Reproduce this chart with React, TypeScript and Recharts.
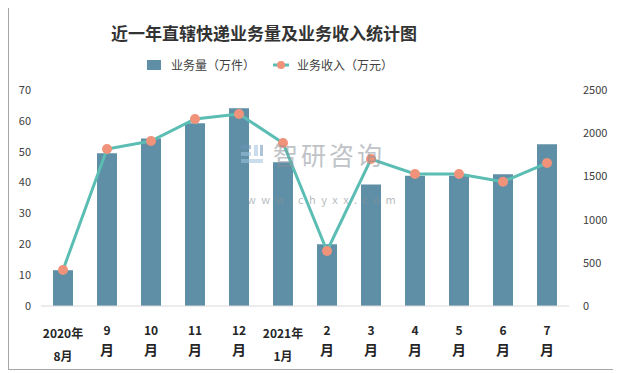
import { ComposedChart, Bar, Line, XAxis, YAxis } from "recharts"

const categories = [
  "2020年8月", "9月", "10月", "11月", "12月", "2021年1月",
  "2月", "3月", "4月", "5月", "6月", "7月",
]

// 业务量 (万件)
const volume = [11.6, 49.5, 54.3, 59.2, 64.1, 46.6, 20.0, 39.4, 42.2, 42.2, 42.7, 52.4]

// 业务收入 (万元)
const revenue = [417, 1817, 1910, 2164, 2222, 1887, 637, 1701, 1528, 1528, 1439, 1655]

const leftTicks = [0, 10, 20, 30, 40, 50, 60, 70]
const rightTicks = [0, 500, 1000, 1500, 2000, 2500]

const data = categories.map((name, i) => ({
  name,
  volume: volume[i],
  revenue: revenue[i],
}))

const BAR_COLOR = "#5e8fa7"
const LINE_COLOR = "#5bbdb3"
const DOT_COLOR = "#f0937a"
const FONT = "'Noto Sans CJK SC', 'DejaVu Sans', sans-serif"

function MonthTick(props: any) {
  const { x, y, payload } = props
  const v: string = payload.value
  let lines: { t: string; dy: number; size: number }[]
  if (v.includes("年")) {
    const idx = v.indexOf("年") + 1
    lines = [
      { t: v.slice(0, idx), dy: 21, size: 12 },
      { t: v.slice(idx), dy: 44, size: 12 },
    ]
  } else {
    lines = [
      { t: v.replace("月", ""), dy: 18, size: 12 },
      { t: "月", dy: 37, size: 14 },
    ]
  }
  return (
    <g>
      {lines.map((l, i) => (
        <text
          key={i}
          x={x}
          y={y + l.dy}
          textAnchor="middle"
          dominantBaseline="middle"
          fontSize={l.size}
          fontWeight="bold"
          fill="#262626"
          fontFamily={FONT}
        >
          {l.t}
        </text>
      ))}
    </g>
  )
}

export default function App() {
  return (
    <div
      style={{
        position: "relative",
        width: 605,
        height: 362,
        border: "1px solid #a6a6a6",
        marginTop: -2,
        background: "#fff",
      }}
    >
      <div
        style={{
          position: "absolute",
          top: 13,
          left: 0,
          width: 510,
          textAlign: "center",
          fontFamily: "'Noto Sans CJK SC', serif",
          fontWeight: "bold",
          fontSize: 17,
          color: "#333",
        }}
      >
        近一年直辖快递业务量及业务收入统计图
      </div>

      {/* legend */}
      <div
        style={{
          position: "absolute",
          top: 49,
          left: 138,
          display: "flex",
          alignItems: "center",
          fontFamily: FONT,
          fontSize: 12,
          color: "#404040",
          whiteSpace: "nowrap",
        }}
      >
        <svg width={14} height={10} style={{ marginRight: 10 }}>
          <rect x={0} y={0} width={14} height={10} fill={BAR_COLOR} />
        </svg>
        <span>业务量（万件）</span>
        <svg width={16} height={10} style={{ marginLeft: 18, marginRight: 8 }}>
          <line x1={0} y1={5} x2={16} y2={5} stroke={LINE_COLOR} strokeWidth={3} />
          <circle cx={8} cy={5} r={4} fill={DOT_COLOR} />
        </svg>
        <span>业务收入（万元）</span>
      </div>

      <div style={{ position: "absolute", top: 0, left: 0 }}>
        <ComposedChart
          width={605}
          height={362}
          data={data}
          margin={{ top: 83, right: 5, bottom: 13, left: 2 }}
        >
          <XAxis
            dataKey="name"
            interval={0}
            tickLine={false}
            axisLine={{ stroke: "#d9d9d9" }}
            tick={<MonthTick />}
            height={50}
          />
          <YAxis
            yAxisId="left"
            domain={[0, 70]}
            ticks={leftTicks}
            width={30}
            axisLine={false}
            tickLine={false}
            tickSize={0}
            tickMargin={10}
            tick={{ fontSize: 11, fill: "#404040", fontFamily: FONT }}
          />
          <YAxis
            yAxisId="right"
            orientation="right"
            domain={[0, 2500]}
            ticks={rightTicks}
            width={40}
            axisLine={false}
            tickLine={false}
            tickSize={0}
            tickMargin={14}
            tick={{ fontSize: 11, fill: "#404040", fontFamily: FONT, textAnchor: "start" }}
          />
          <Bar
            yAxisId="left"
            dataKey="volume"
            name="业务量（万件）"
            fill={BAR_COLOR}
            barSize={20}
            isAnimationActive={false}
          />
          <Line
            yAxisId="right"
            dataKey="revenue"
            name="业务收入（万元）"
            stroke={LINE_COLOR}
            strokeWidth={3}
            dot={{ r: 5, fill: DOT_COLOR, stroke: "none" }}
            activeDot={false}
            isAnimationActive={false}
          />
        </ComposedChart>
      </div>

      {/* watermark */}
      <div
        style={{
          position: "absolute",
          top: 129,
          left: 232,
          display: "flex",
          alignItems: "center",
          opacity: 0.55,
          pointerEvents: "none",
        }}
      >
        <svg width={24} height={22} style={{ marginRight: 8 }}>
          <rect x={0} y={2} width={10} height={4} fill="#6f93b8" />
          <rect x={0} y={9} width={10} height={4} fill="#9fc2e0" />
          <rect x={0} y={16} width={22} height={4} fill="#9fc2e0" />
          <rect x={13} y={2} width={4} height={11} fill="#9fc2e0" />
          <rect x={19} y={2} width={3} height={11} fill="#6f93b8" />
        </svg>
        <span style={{ color: "#8c9299", fontFamily: FONT, fontSize: 25, letterSpacing: 3 }}>
          智研咨询
        </span>
      </div>
      <div
        style={{
          position: "absolute",
          top: 184,
          left: 238,
          color: "#8c9299",
          opacity: 0.6,
          fontFamily: FONT,
          fontSize: 11,
          letterSpacing: 5.5,
          pointerEvents: "none",
        }}
      >
        www.chyxx.com
      </div>
    </div>
  )
}
